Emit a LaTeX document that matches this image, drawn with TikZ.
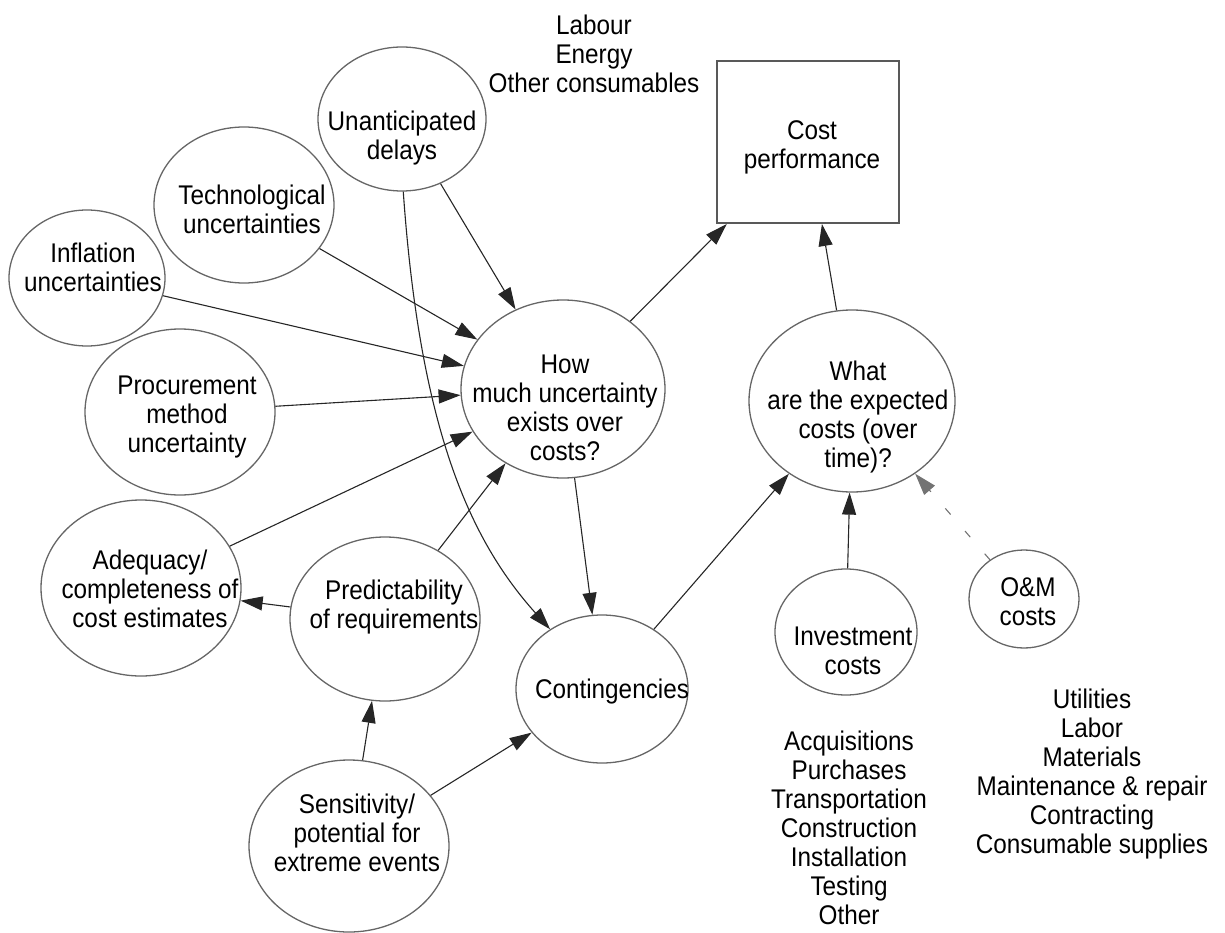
\documentclass[tikz,border=0pt]{standalone}
\usepackage{fontspec}
\setmainfont[FakeStretch=0.9]{Liberation Sans}
\usetikzlibrary{shapes.geometric,arrows.meta}
\begin{document}
\begin{tikzpicture}[x=1pt,y=-1pt,
  bub/.style={ellipse, draw=black!60, line width=1.3pt, inner sep=0pt},
  box/.style={rectangle, draw=black!65, line width=2pt, inner sep=0pt},
  txt/.style={align=center, font=\fontsize{27}{29}\selectfont, inner sep=0pt},
  arr/.style={draw=black!85, line width=1.1pt, -{Triangle[length=22pt,width=14pt]}},
  faint/.style={arr, draw=black!55, dash pattern=on 8pt off 22pt},
]
\useasboundingbox (0,0) rectangle (1225,933);

% bubbles
\node[bub, minimum width=168pt, minimum height=144pt] (unant) at (402,119) {};
\node[bub, minimum width=180pt, minimum height=156pt] (tech)  at (244,205) {};
\node[bub, minimum width=156pt, minimum height=136pt] (infl)  at (87,278) {};
\node[bub, minimum width=190pt, minimum height=166pt] (proc)  at (180,412) {};
\node[bub, minimum width=204pt, minimum height=178pt] (how)   at (563,389) {};
\node[bub, minimum width=206pt, minimum height=182pt] (what)  at (852,401) {};
\node[bub, minimum width=142pt, minimum height=126pt] (inv)   at (846,632) {};
\node[bub, minimum width=110pt, minimum height=98pt]  (om)    at (1024,599) {};
\node[bub, minimum width=200pt, minimum height=176pt] (adeq)  at (141,588) {};
\node[bub, minimum width=190pt, minimum height=164pt] (pred)  at (385,619) {};
\node[bub, minimum width=172pt, minimum height=148pt] (cont)  at (602,689) {};
\node[bub, minimum width=200pt, minimum height=172pt] (sens)  at (349,846) {};
\node[box, minimum width=182pt, minimum height=162pt] (cost)  at (808,142) {};

% bubble texts
\node[txt] (unant-t) at (402,138) {Unanticipated\\delays};
\node[txt] (tech-t)  at (252,209) {Technological\\uncertainties};
\node[txt] (infl-t)  at (93,267)  {Inflation\\uncertainties};
\node[txt] (proc-t)  at (187,417) {Procurement\\method\\uncertainty};
\node[txt] (how-t)   at (565,408) {How\\much uncertainty\\exists over\\costs?};
\node[txt] (what-t)  at (858,417) {What\\are the expected\\costs (over\\time)?};
\node[txt] (inv-t)   at (853,651) {Investment\\costs};
\node[txt] (om-t)    at (1028,602) {O\&M\\costs};
\node[txt] (adeq-t)  at (150,589) {Adequacy/\\completeness of\\cost estimates};
\node[txt] (pred-t)  at (394,607) {Predictability\\of requirements};
\node[txt] (cont-t)  at (612,692) {Contingencies};
\node[txt] (sens-t)  at (357,833) {Sensitivity/\\potential for\\extreme events};
\node[txt] (cost-t)  at (812,147) {Cost\\performance};

% free lists
\node[txt] (list1) at (594,54)  {Labour\\Energy\\Other consumables};
\node[txt] (list2) at (849,828) {Acquisitions\\Purchases\\Transportation\\Construction\\Installation\\Testing\\Other};
\node[txt] (list3) at (1092,774) {Utilities\\Labor\\Materials\\Maintenance \& repair\\Contracting\\Consumable supplies};

% connectors
\draw[arr] (unant) -- (how);
\draw[arr] (tech) -- (how);
\draw[arr] (infl) -- (how);
\draw[arr] (proc) -- (how);
\draw[arr] (adeq) -- (how);
\draw[arr] (pred) -- (how);
\draw[arr] (pred) -- (adeq);
\draw[arr] (how) -- (cont);
\draw[arr] (how) -- (cost);
\draw[arr] (what) -- (cost);
\draw[arr] (cont) -- (what);
\draw[arr] (inv) -- (what);
\draw[faint] (om) -- (what);
\draw[arr] (sens) -- (pred);
\draw[arr] (sens) -- (cont);
\draw[arr] (unant.-89) .. controls (420,430) and (470,540) .. (cont.131);
\end{tikzpicture}
\end{document}
